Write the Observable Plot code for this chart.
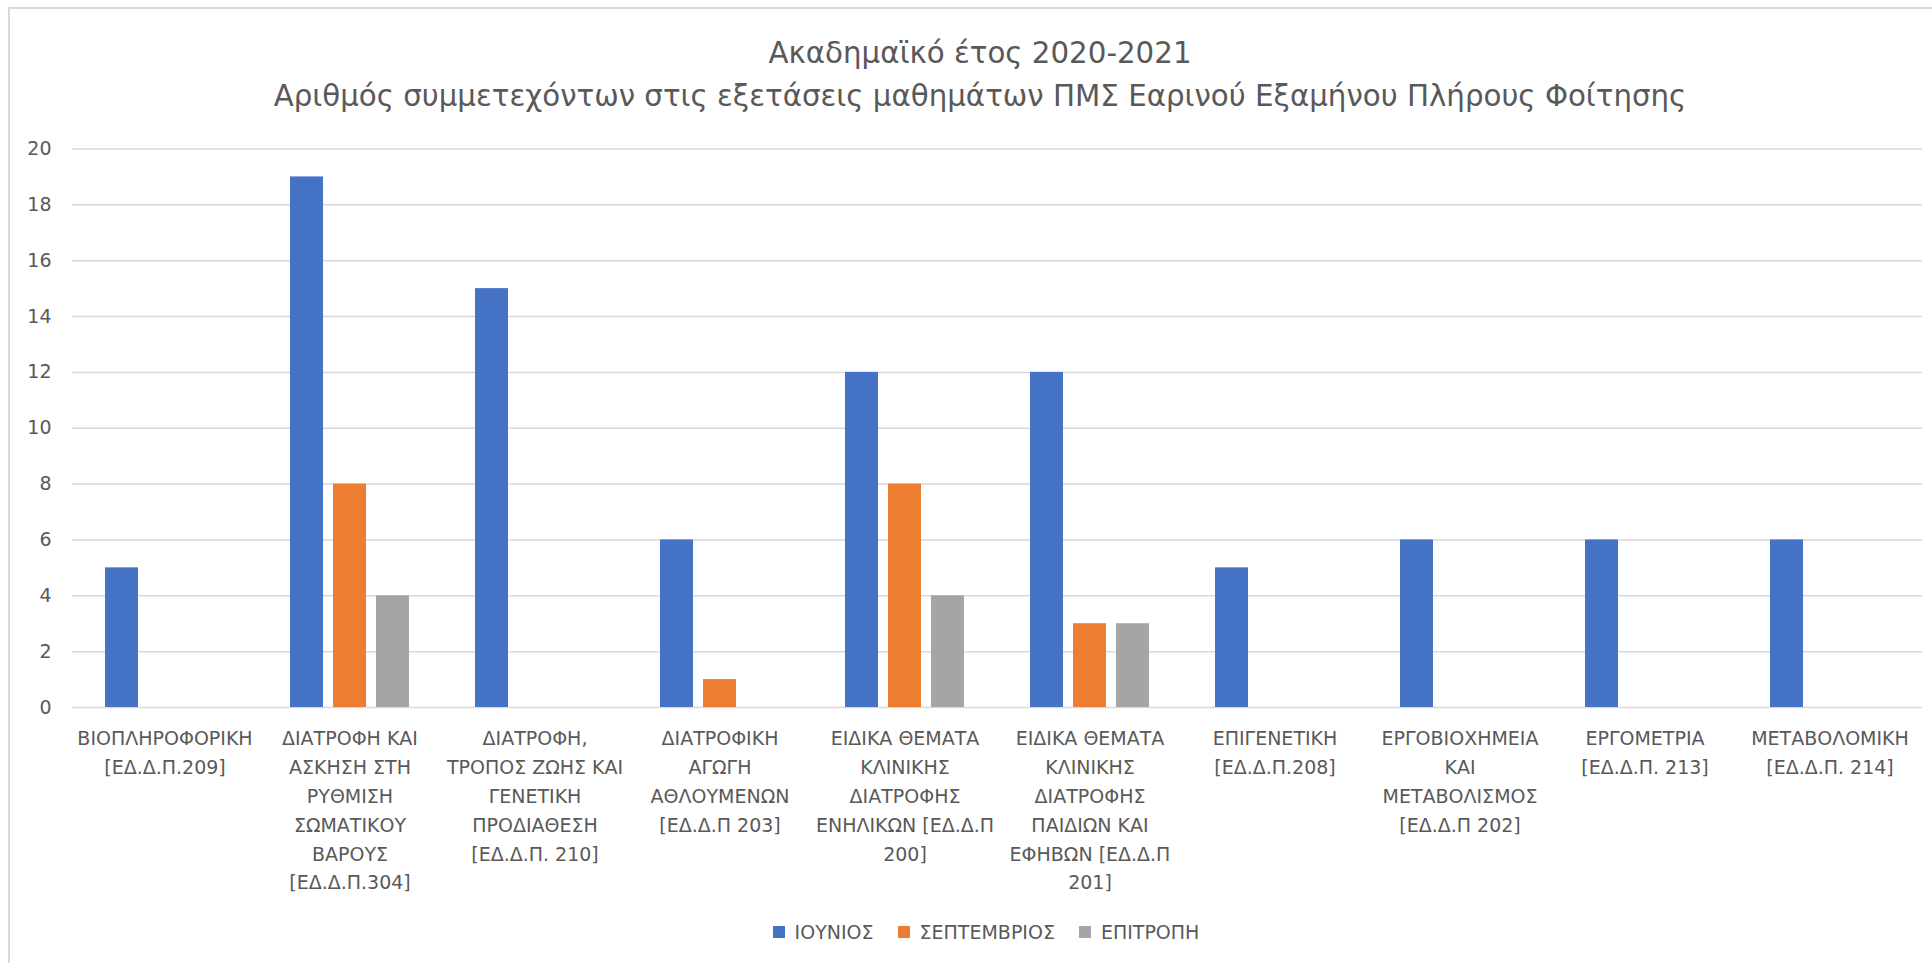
<!DOCTYPE html>
<html>
<head>
<meta charset="utf-8">
<script src="https://cdn.jsdelivr.net/npm/d3@7"></script>
<script src="https://cdn.jsdelivr.net/npm/@observablehq/plot@0.6"></script>
<style>
  html, body { margin: 0; padding: 0; background: #fff; }
  #wrap { position: relative; width: 1932px; height: 963px; overflow: hidden; background: #fff; font-family: "DejaVu Sans", sans-serif; color: #595959; }
  #frame { position: absolute; left: 8px; top: 7px; width: 2000px; height: 1000px; border: 2px solid #D9D9D9; box-sizing: border-box; }
  #title { position: absolute; left: 0; top: 32px; width: 1960px; text-align: center; font-size: 29.3px; line-height: 43px; color: #595959; }
  #chart { position: absolute; left: 0; top: 120px; }
  #legend { position: absolute; left: 0; top: 921px; width: 1972px; height: 22px; display: flex; justify-content: center; align-items: center; font-size: 19px; color: #595959; }
  .item { display: flex; align-items: center; margin: 0 12px; }
  .sw { width: 12px; height: 12px; margin-right: 10px; }
</style>
</head>
<body>
<div id="wrap">
  <div id="frame"></div>
  <div id="title"></div>
  <div id="chart"></div>
  <div id="legend"></div>
</div>
<script>
const titleLines = ["Ακαδημαϊκό έτος 2020-2021", "Αριθμός συμμετεχόντων στις εξετάσεις μαθημάτων ΠΜΣ Εαρινού Εξαμήνου Πλήρους Φοίτησης"];
const categories = [
  "ΒΙΟΠΛΗΡΟΦΟΡΙΚΗ\n[ΕΔ.Δ.Π.209]",
  "ΔΙΑΤΡΟΦΗ ΚΑΙ\nΑΣΚΗΣΗ ΣΤΗ\nΡΥΘΜΙΣΗ\nΣΩΜΑΤΙΚΟΥ\nΒΑΡΟΥΣ\n[ΕΔ.Δ.Π.304]",
  "ΔΙΑΤΡΟΦΗ,\nΤΡΟΠΟΣ ΖΩΗΣ ΚΑΙ\nΓΕΝΕΤΙΚΗ\nΠΡΟΔΙΑΘΕΣΗ\n[ΕΔ.Δ.Π. 210]",
  "ΔΙΑΤΡΟΦΙΚΗ\nΑΓΩΓΗ\nΑΘΛΟΥΜΕΝΩΝ\n[ΕΔ.Δ.Π 203]",
  "ΕΙΔΙΚΑ ΘΕΜΑΤΑ\nΚΛΙΝΙΚΗΣ\nΔΙΑΤΡΟΦΗΣ\nΕΝΗΛΙΚΩΝ [ΕΔ.Δ.Π\n200]",
  "ΕΙΔΙΚΑ ΘΕΜΑΤΑ\nΚΛΙΝΙΚΗΣ\nΔΙΑΤΡΟΦΗΣ\nΠΑΙΔΙΩΝ ΚΑΙ\nΕΦΗΒΩΝ [ΕΔ.Δ.Π\n201]",
  "ΕΠΙΓΕΝΕΤΙΚΗ\n[ΕΔ.Δ.Π.208]",
  "ΕΡΓΟΒΙΟΧΗΜΕΙΑ\nΚΑΙ\nΜΕΤΑΒΟΛΙΣΜΟΣ\n[ΕΔ.Δ.Π 202]",
  "ΕΡΓΟΜΕΤΡΙΑ\n[ΕΔ.Δ.Π. 213]",
  "ΜΕΤΑΒΟΛΟΜΙΚΗ\n[ΕΔ.Δ.Π. 214]"
];
const series = ["ΙΟΥΝΙΟΣ", "ΣΕΠΤΕΜΒΡΙΟΣ", "ΕΠΙΤΡΟΠΗ"];
const iounios = [5, 19, 15, 6, 12, 12, 5, 6, 6, 6];
const septemvrios = [0, 8, 0, 1, 8, 3, 0, 0, 0, 0];
const epitropi = [0, 4, 0, 0, 4, 3, 0, 0, 0, 0];
const yTicks = [0, 2, 4, 6, 8, 10, 12, 14, 16, 18, 20];
const colors = ["#4472C4", "#ED7D31", "#A5A5A5"];

const valuesBySeries = [iounios, septemvrios, epitropi];
const rows = [];
categories.forEach((c, i) => {
  series.forEach((s, j) => {
    rows.push({category: c, series: s, value: valuesBySeries[j][i]});
  });
});

document.getElementById("title").innerHTML = titleLines.map(t => `<div>${t}</div>`).join("");

const chart = Plot.plot({
  width: 1932,
  height: 790,
  marginLeft: 71,
  marginRight: 9,
  marginTop: 28.5,
  marginBottom: 203,
  style: {fontFamily: "'DejaVu Sans', sans-serif", fontSize: "19px", background: "transparent", color: "#595959"},
  fx: {domain: categories, paddingInner: 0, paddingOuter: 0, label: null, axis: null},
  x: {domain: series, paddingInner: 0.229, paddingOuter: 0.73, axis: null},
  y: {domain: [0, 20], axis: null},
  color: {domain: series, range: colors},
  marks: [
    Plot.ruleY(yTicks, {stroke: "#D9D9D9", strokeWidth: 1.5}),
    Plot.barY(rows.filter(d => d.value > 0), {fx: "category", x: "series", y: "value", fill: "series"}),
    Plot.axisY({ticks: yTicks, tickSize: 0, tickPadding: 21, fontSize: 19, fill: "#595959", label: null}),
    Plot.axisFx({anchor: "bottom", tickSize: 0, tickPadding: 17, fontSize: 19, lineHeight: 1.52, fill: "#595959", label: null})
  ]
});
document.getElementById("chart").appendChild(chart);

const legend = document.getElementById("legend");
series.forEach((s, j) => {
  const item = document.createElement("div");
  item.className = "item";
  item.innerHTML = `<span class="sw" style="background:${colors[j]}"></span><span>${s}</span>`;
  legend.appendChild(item);
});
</script>
</body>
</html>
